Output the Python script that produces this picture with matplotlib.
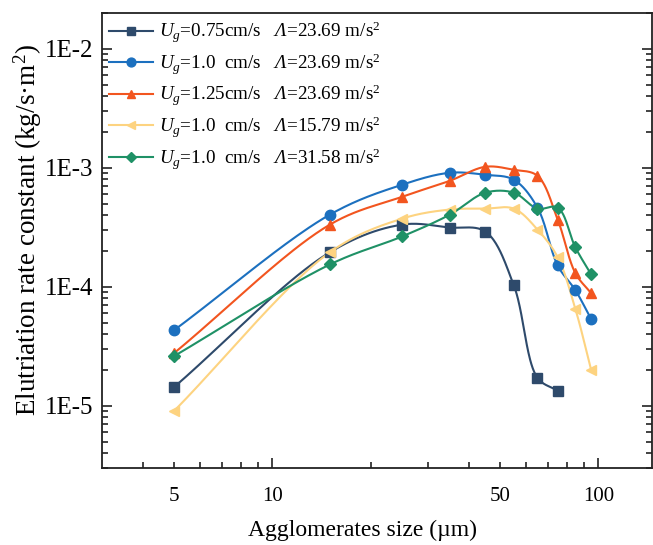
import numpy as np
import matplotlib
matplotlib.use("Agg")
import matplotlib.pyplot as plt
from matplotlib.lines import Line2D
from matplotlib.ticker import FixedLocator, FuncFormatter, NullFormatter

plt.rcParams['font.family'] = ['Liberation Serif', 'DejaVu Serif']
plt.rcParams['mathtext.fontset'] = 'custom'
plt.rcParams['mathtext.rm'] = 'Liberation Serif'
plt.rcParams['mathtext.it'] = 'Liberation Serif:italic'
plt.rcParams['mathtext.sf'] = 'Liberation Serif:italic'
plt.rcParams['mathtext.bf'] = 'Liberation Serif:bold'

# ---- data ----
size = [5, 15, 25, 35, 45, 55, 65, 75, 85, 95]

ug075_a2369 = [1.44e-5, 1.95e-4, 3.33e-4, 3.15e-4, 2.91e-4, 1.03e-4, 1.72e-5, 1.34e-5]
ug10_a2369 = [4.33e-5, 4.04e-4, 7.21e-4, 9.08e-4, 8.73e-4, 7.94e-4, 4.63e-4, 1.51e-4, 9.35e-5, 5.35e-5]
ug125_a2369 = [2.78e-5, 3.33e-4, 5.71e-4, 7.78e-4, 1.02e-3, 9.62e-4, 8.57e-4, 3.67e-4, 1.30e-4, 8.83e-5]
ug10_a1579 = [9.08e-6, 1.95e-4, 3.74e-4, 4.46e-4, 4.54e-4, 4.54e-4, 3.03e-4, 1.77e-4, 6.49e-5, 2.00e-5]
ug10_a3158 = [2.62e-5, 1.54e-4, 2.65e-4, 4.04e-4, 6.18e-4, 6.18e-4, 4.54e-4, 4.63e-4, 2.14e-4, 1.27e-4]

labels = [
    r"$U_g$=0.75cm/s   $\mathsf{Λ}$=23.69 m/s$^2$",
    r"$U_g$=1.0  cm/s   $\mathsf{Λ}$=23.69 m/s$^2$",
    r"$U_g$=1.25cm/s   $\mathsf{Λ}$=23.69 m/s$^2$",
    r"$U_g$=1.0  cm/s   $\mathsf{Λ}$=15.79 m/s$^2$",
    r"$U_g$=1.0  cm/s   $\mathsf{Λ}$=31.58 m/s$^2$",
]
series = [ug075_a2369, ug10_a2369, ug125_a2369, ug10_a1579, ug10_a3158]
colors = ['#2E4A6B', '#1C70BF', '#F2551F', '#FDD380', '#1F9166']
markers = ['s', 'o', '^', '<', 'D']
msizes = [7, 7.5, 7.5, 7.5, 6]

xtick_labels = {5: '5', 10: '10', 50: '50', 100: '100'}


def catmull_rom(px, py, n=40, alpha=0.5):
    P = np.column_stack([px, py]).astype(float)
    P = np.vstack([2 * P[0] - P[1], P, 2 * P[-1] - P[-2]])
    out = []
    for i in range(1, len(P) - 2):
        p0, p1, p2, p3 = P[i - 1], P[i], P[i + 1], P[i + 2]
        t0 = 0.0
        t1 = t0 + np.linalg.norm(p1 - p0) ** alpha
        t2 = t1 + np.linalg.norm(p2 - p1) ** alpha
        t3 = t2 + np.linalg.norm(p3 - p2) ** alpha
        t = np.linspace(t1, t2, n)[:, None]
        a1 = (t1 - t) / (t1 - t0) * p0 + (t - t0) / (t1 - t0) * p1
        a2 = (t2 - t) / (t2 - t1) * p1 + (t - t1) / (t2 - t1) * p2
        a3 = (t3 - t) / (t3 - t2) * p2 + (t - t2) / (t3 - t2) * p3
        b1 = (t2 - t) / (t2 - t0) * a1 + (t - t0) / (t2 - t0) * a2
        b2 = (t3 - t) / (t3 - t1) * a2 + (t - t1) / (t3 - t1) * a3
        c = (t2 - t) / (t2 - t1) * b1 + (t - t1) / (t2 - t1) * b2
        out.append(c if i == 1 else c[1:])
    out = np.vstack(out)
    return out[:, 0], out[:, 1]


fig = plt.figure(figsize=(6.53, 5.45), dpi=100)
ax = fig.add_axes([102 / 653, 1 - 468 / 545, 550 / 653, 455 / 545])

SX, SY = 326.0, 119.5  # pixels per decade, used only for curve smoothing
handles = []
for vals, col, mk, ms, lab in zip(series, colors, markers, msizes, labels):
    xv = np.array(size[:len(vals)], float)
    yv = np.array(vals, float)
    cx, cy = catmull_rom(np.log10(xv) * SX, np.log10(yv) * SY)
    ax.plot(10 ** (cx / SX), 10 ** (cy / SY), color=col, lw=1.5, zorder=2)
    ax.plot(xv, yv, ls='none', marker=mk, ms=ms, color=col, mec=col, zorder=3)
    handles.append(Line2D([], [], color=col, lw=1.5, marker=mk, ms=ms * 0.85, mec=col, label=lab))

ax.set_xscale('log')
ax.set_yscale('log')
ax.set_xlim(3, 146)
ax.set_ylim(3e-6, 2e-2)

ax.xaxis.set_major_locator(FixedLocator([10, 100]))
ax.xaxis.set_minor_locator(FixedLocator([4, 5, 6, 7, 8, 9, 20, 30, 40, 50, 60, 70, 80, 90]))
fmt = FuncFormatter(lambda v, p: next((s for k, s in xtick_labels.items() if abs(v - k) < 1e-6 * k), ''))
ax.xaxis.set_major_formatter(fmt)
ax.xaxis.set_minor_formatter(fmt)

ax.yaxis.set_major_locator(FixedLocator([1e-5, 1e-4, 1e-3, 1e-2]))
ax.yaxis.set_major_formatter(FuncFormatter(lambda v, p: "1E%d" % int(round(np.log10(v)))))
yminor = [m * 10.0 ** e for e in range(-6, -1) for m in range(2, 10)]
ax.yaxis.set_minor_locator(FixedLocator(yminor))
ax.yaxis.set_minor_formatter(NullFormatter())

ax.tick_params(axis='both', which='both', direction='in', width=1.2, colors='#222222')
ax.tick_params(axis='x', which='both', top=False, bottom=True, pad=14, labelsize=15)
ax.tick_params(axis='y', which='both', left=True, right=True, pad=6, labelsize=18)
ax.tick_params(which='major', length=7)
ax.tick_params(which='minor', length=4)
for tl in ax.get_xticklabels(minor=True) + ax.get_xticklabels() + ax.get_yticklabels():
    tl.set_color('black')
for s in ax.spines.values():
    s.set_linewidth(1.3)
    s.set_color('#222222')

ax.set_xlabel('Agglomerates size (µm)', fontsize=17)
ax.xaxis.set_label_coords((363 - 102) / 550, -(530 - 468) / 455)
ax.set_ylabel('Elutriation rate constant (kg/s·m$^2$)', fontsize=19.5)
ax.yaxis.set_label_coords(-(102 - 28) / 550, (468 - 230) / 455)
ax.xaxis.label.set_va('center')
ax.yaxis.label.set_va('center')

leg = ax.legend(handles=handles, loc='upper left', frameon=False, fontsize=13.8,
                handlelength=2.3, handletextpad=0.3, labelspacing=0.33,
                borderaxespad=0.2, borderpad=0.15)

fig.savefig('out.png', dpi=100)
